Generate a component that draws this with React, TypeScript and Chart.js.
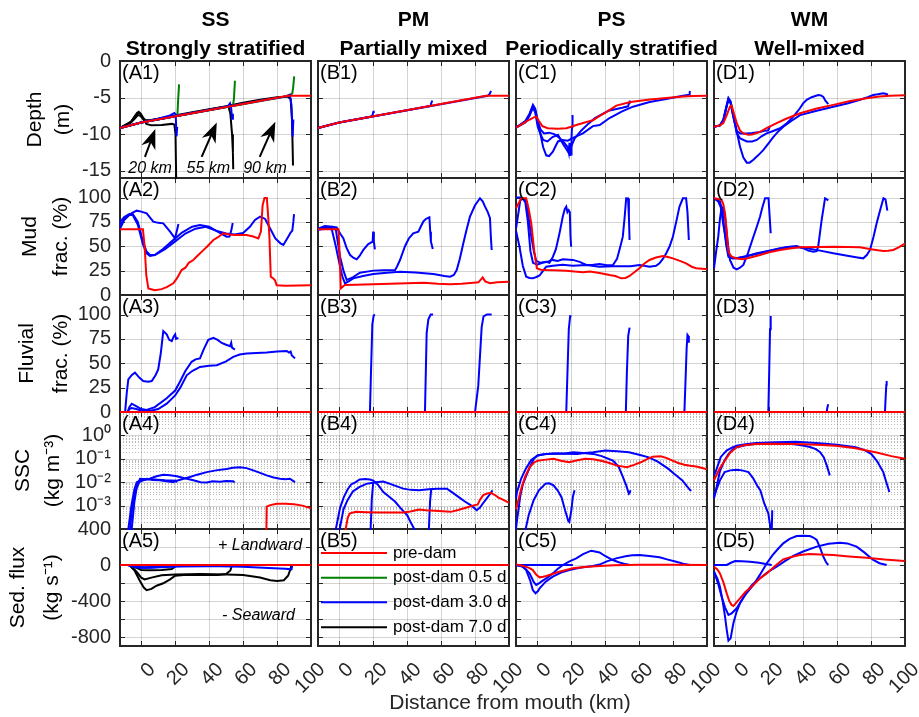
import React, { useEffect, useRef } from 'react';
import { Chart, registerables } from 'chart.js';

Chart.register(...registerables);
const FONT = "'Liberation Sans', Arial, Helvetica, sans-serif";
Chart.defaults.font.family = FONT;
Chart.defaults.color = '#262626';

type Pt = [number, number];

// ---------------- categories, labels, ticks ----------------
const regimeCodes = ['SS', 'PM', 'PS', 'WM'];
const regimeNames = ['Strongly stratified', 'Partially mixed', 'Periodically stratified', 'Well-mixed'];
const panelLetters = ['A', 'B', 'C', 'D'];
const legendLabels = ['pre-dam', 'post-dam 0.5 d', 'post-dam 3.0 d', 'post-dam 7.0 d'];
const legendKeys = ['pre', 'd05', 'd3', 'd7'];
const xAxisTitle = 'Distance from mouth (km)';
const kmTicks = [0, 20, 40, 60, 80, 100];
const kmGrid = [0, 20, 40, 60, 80];
const depthTicks = [0, -5, -10, -15];
const fracTicks = [0, 25, 50, 75, 100];
const sscTicks = [1e-3, 1e-2, 1e-1, 1];
const sscTickLabels = ['10⁻³', '10⁻²', '10⁻¹', '10⁰'];
const fluxTicks = [400, 0, -400, -800];
const fluxGridValues = [200, 0, -200, -400, -600, -800];
const damLabels = ['20 km', '55 km', '90 km'];
const damLabelPos: Pt[] = [[5.2, -15.3], [39.5, -15.3], [72.9, -15.3]];
const damArrows = [[2.2, -13.1, 8.3, -9.3], [35.6, -13.1, 44.5, -8.4], [69.8, -13.1, 79, -8.3]];
const fluxNotes = ['+ Landward', '- Seaward'];
const fluxNotePos: Pt[] = [[45.2, 211], [47.6, -567]];

// ---------------- A: SS ----------------
const A1_pre: Pt[] = [[-12.5, -9.15], [0, -8.4], [86.5, -4.75], [100, -4.75]];
const A1_d7_20: Pt[] = [[-12.5, -9.15], [-9, -8.9], [-6, -8.3], [-4, -7.6], [-2.5, -7.1], [-1.5, -6.95], [0, -7.3], [1.5, -8.0], [3, -8.6], [6, -8.8], [12, -8.75], [18, -8.6], [19.5, -8.7], [20.2, -10], [20.6, -16.5]];
const A1_d7_55: Pt[] = [[-12.5, -9.15], [-6, -8.3], [-4, -7.7], [-2, -7.2], [-1, -7.1], [0.5, -7.6], [2.5, -8.1], [5, -8.1], [10, -7.9], [20, -7.45], [30, -7.0], [40, -6.6], [48, -6.3], [51.5, -6.25], [52.5, -7.2], [53.5, -10], [54, -12.5], [54.2, -14.8]];
const A1_d7_90: Pt[] = [[-12.5, -9.15], [-6, -8.4], [-3.5, -7.8], [-2, -7.4], [-0.5, -7.5], [2, -8.2], [6, -8.1], [15, -7.7], [30, -7.1], [50, -6.2], [60, -5.7], [70, -5.3], [80, -4.95], [86, -4.85], [88, -5.2], [88.8, -8], [89.2, -12], [89.4, -14.3]];
const A1_d05_20: Pt[] = [[-12.5, -9.15], [0, -8.4], [20, -7.56], [21.3, -7.5], [21.7, -5.5], [22.3, -3.2]];
const A1_d05_55: Pt[] = [[-12.5, -9.15], [0, -8.4], [54, -6.12], [54.6, -5.2], [55.2, -2.7]];
const A1_d05_90: Pt[] = [[-12.5, -9.15], [0, -8.4], [87.5, -4.75], [89, -4.4], [89.5, -3.6], [90.1, -2.1]];
const A1_d3_20: Pt[] = [[-12.5, -9.15], [0, -8.4], [10, -7.9], [17, -7.45], [19.5, -7.1], [20.3, -7.3], [20.8, -10.3], [21.2, -9.0]];
const A1_d3_55: Pt[] = [[-12.5, -9.15], [0, -8.4], [30, -7.1], [45, -6.5], [51, -6.2], [52.3, -5.8], [53, -6.5], [53.5, -7.9], [54, -7.2]];
const A1_d3_90: Pt[] = [[-12.5, -9.15], [0, -8.4], [40, -6.7], [70, -5.45], [85, -4.85], [87.5, -4.6], [88.5, -6], [89.2, -10.35], [89.6, -8]];

const A2_pre: Pt[] = [[-12.5, 67.4], [1, 67.4], [2, 50], [3, 20], [4.2, 6.8], [8, 5], [12, 6], [15, 8], [18.9, 12], [21, 17], [23.8, 25.6], [26, 28], [28, 33], [30.7, 35.9], [33, 40], [36.6, 46], [39, 50], [42.5, 56.4], [45, 59], [48.4, 63.3], [52, 62], [55, 61.5], [62, 61.5], [66, 60], [69, 58], [70.5, 65], [71.5, 92], [72.6, 99.5], [74, 99.5], [74.8, 80], [75.5, 60], [76.3, 18.8], [77.8, 17], [78.8, 15], [79.8, 10], [85, 9.6], [100, 10]];
const A2_d3_20: Pt[] = [[-12.5, 72], [-9, 80], [-5.5, 84], [-2.7, 86.5], [0, 85.5], [3.2, 83.8], [7.1, 75.2], [10, 74], [13, 73.5], [17, 65], [19.9, 58.1], [21, 66], [21.9, 72.8]];
const A2_d3_55: Pt[] = [[-12.5, 75], [-10, 80], [-7, 83], [-5, 83], [-2, 75], [1, 55], [3, 45], [5.2, 41], [8, 41], [12, 46], [18, 55], [24, 64], [30, 70], [34.6, 71.8], [40, 70], [45, 65], [50.3, 59.8], [52, 60], [53, 66], [53.9, 73.8]];
const A2_d3_90: Pt[] = [[-12.5, 68], [-10, 77], [-7, 82], [-5, 82], [-2, 72], [1, 52], [3, 43], [5.2, 40], [8, 41], [14, 47], [20, 55], [26, 63], [32, 68], [38, 70], [44, 66], [50, 63], [55, 62], [60, 63.5], [64, 70], [67, 77], [70, 80.3], [73, 78], [76, 68], [79, 58], [82, 53], [83.7, 51.3], [86, 58], [88, 64], [89, 66], [89.6, 75], [90, 83]];

const A3_pre: Pt[] = [[-12.5, 0], [100, 0]];
const A3_d3_20: Pt[] = [[-12.5, 0], [-9.5, 0], [-8.5, 20], [-7.6, 33.5], [-5.5, 38], [-3.7, 40.3], [-1, 35], [1.2, 31.7], [4, 31], [6.2, 31.7], [8.5, 38], [10, 43.7], [11.5, 60], [13, 83], [15, 79.6], [16.5, 74], [18, 72.7], [19, 77], [20, 79.6], [20.5, 75], [21.9, 76]];
const A3_d3_55: Pt[] = [[-12.5, 0], [-8, 0], [-7, 5], [-5.6, 8.5], [-3, 6], [0, 3], [3.2, 2], [8, 5], [15, 14], [20, 22], [22.8, 31], [26, 42], [29.7, 51.5], [32, 54], [34.6, 55], [37, 65], [39.5, 74], [42.5, 76], [45, 74], [47.4, 70.8], [50, 69], [52.3, 67.4], [53, 71], [53.5, 66], [55.2, 64]];
const A3_d3_90: Pt[] = [[-12.5, 0], [-8, 0], [-7, 3], [-5.6, 4], [-3, 3], [0, 1.5], [5, 1], [10, 3], [15, 8.5], [20, 17], [23, 25], [26.8, 37.6], [30, 42], [34.6, 46.2], [40, 47.5], [44.5, 48], [50, 52], [54.2, 56.6], [58, 59], [62.1, 60], [68, 60.5], [73.9, 61], [80, 62], [85.7, 62.6], [87, 61], [88, 62], [88.7, 58], [90.6, 55]];

const A4_pre: Pt[] = [[-12.5, 1e-6], [73.4, 1e-6], [73.9, 9e-4], [76, 1.05e-3], [79.8, 1.2e-3], [85, 1.2e-3], [90, 1.15e-3], [95, 1.0e-3], [100, 7.6e-4]];
const A4_d3_20: Pt[] = [[-8, 5e-5], [-7.6, 1e-4], [-6.5, 4e-4], [-5.6, 1.2e-3], [-4, 5e-3], [-2.6, 0.01], [0, 0.0125], [3.2, 0.014], [7, 0.0125], [11, 0.012], [15, 0.011], [19, 0.01], [20, 0.0115], [21, 0.01]];
const A4_d3_55: Pt[] = [[-7, 5e-5], [-6.6, 1e-4], [-5.5, 6e-4], [-4, 3e-3], [-2.6, 6e-3], [-1, 0.0105], [1.2, 0.012], [5, 0.014], [9, 0.018], [13, 0.021], [17, 0.02], [21, 0.018], [25, 0.015], [30.7, 0.012], [35, 0.01], [38.6, 0.0098], [42, 0.011], [46.4, 0.0105], [50, 0.0112], [54.2, 0.011], [55, 0.0098]];
const A4_d3_90: Pt[] = [[-6, 5e-5], [-5.6, 1e-4], [-4, 1.5e-3], [-2.5, 7e-3], [-0.7, 0.014], [3, 0.0135], [8, 0.013], [14, 0.012], [21, 0.0115], [25, 0.014], [28.7, 0.0166], [33, 0.021], [38.6, 0.027], [44, 0.032], [50.3, 0.037], [54, 0.041], [58.2, 0.044], [62, 0.04], [66, 0.032], [70, 0.025], [73.9, 0.0195], [78, 0.016], [81.7, 0.014], [85, 0.0135], [87.6, 0.014], [89, 0.012], [90.6, 0.01]];

const A5_pre: Pt[] = [[-12.5, 0], [100, 0]];
const A5_d7_20: Pt[] = [[-7, 0], [-3, -30], [0, -55], [5, -58], [12, -55], [18, -45], [19.8, -20], [20.2, 0]];
const A5_d7_55: Pt[] = [[-7, 0], [-4, -60], [-1, -170], [1.5, -250], [3.2, -280], [6, -265], [9, -230], [13, -203], [17, -160], [20, -120], [25, -110], [35, -110], [45, -112], [50, -100], [52.5, -60], [53.5, 0]];
const A5_d7_90: Pt[] = [[-7, 0], [-3, -70], [0, -140], [2, -160], [6, -140], [12, -115], [20, -105], [35, -100], [50, -105], [60, -110], [70, -140], [76, -170], [80, -178], [84, -170], [86.5, -120], [88, -40], [88.5, 0]];
const A5_d3_20: Pt[] = [[-8, 0], [-4, -20], [0, -30], [6, -30], [14, -22], [20, -15], [20.5, 0]];
const A5_d3_55: Pt[] = [[-8, 0], [-3, -25], [2, -30], [10, -22], [25, -15], [40, -12], [54, -10], [54.5, 0]];
const A5_d3_90: Pt[] = [[-8, 0], [-3, -20], [2, -25], [15, -15], [40, -10], [60, -20], [75, -32], [85, -42], [88.5, -48], [89, 0]];

// ---------------- B: PM ----------------
const B1_pre: Pt[] = [[-12.5, -9.15], [0, -8.4], [86.5, -4.75], [100, -4.75]];
const B1_d3_20: Pt[] = [[-12.5, -9.15], [0, -8.4], [19, -7.6], [19.6, -7.4], [20, -7.0], [20.3, -6.8]];
const B1_d3_55: Pt[] = [[-12.5, -9.15], [0, -8.4], [53.5, -6.14], [54, -5.9], [54.5, -5.6], [54.8, -5.4]];
const B1_d3_90: Pt[] = [[-12.5, -9.15], [0, -8.4], [87.5, -4.75], [88.6, -4.5], [89.2, -4.2], [89.5, -4.1]];

const B2_pre: Pt[] = [[-12.5, 67.4], [-0.5, 67.4], [0.3, 40], [0.9, 6.8], [3.3, 10.3], [10, 10.5], [20, 11], [30, 11.5], [39.7, 12], [50, 12.5], [58, 11.5], [65.3, 11], [72, 11.5], [79, 12.6], [82, 13], [84.5, 18.1], [86, 14], [88.8, 12], [93, 13], [99.6, 13.7], [100, 13.7]];
const B2_d3_20: Pt[] = [[-12.5, 68], [-8.4, 70.8], [-4, 70], [-1.5, 69.4], [0.5, 63], [2.4, 58.2], [4.4, 48], [6.4, 41], [8.5, 38], [10.3, 36.6], [12, 40], [14.2, 46.2], [17.1, 52.3], [19.7, 54.7], [20, 65], [20.4, 55], [21, 46.9]];
const B2_d3_55: Pt[] = [[-12.5, 67], [-9, 70], [-5, 69], [-2, 67], [0.5, 39.3], [2.5, 25], [4.4, 15.4], [8, 18], [12.2, 22.9], [20.1, 25], [26, 25.4], [32.9, 25.6], [34, 29], [35.8, 35.9], [38.8, 50.3], [41, 58], [43.6, 63.3], [46.6, 65], [48, 70], [49.5, 75.2], [51, 78], [53.1, 79.7], [53.6, 65], [54, 55], [55.1, 47.2]];
const B2_d3_90: Pt[] = [[-12.5, 67], [-8, 68], [-4.4, 67.4], [-2, 50], [0.5, 29], [2, 18], [3.4, 12], [5.5, 14], [8.3, 17.1], [14, 19.5], [20.1, 21.5], [28, 22.8], [35.8, 23.9], [45, 23], [55.4, 21.5], [62, 19.5], [65.3, 18.8], [67.5, 20.5], [69.2, 25.6], [71, 37], [73.1, 53], [75, 67], [77, 80.3], [80, 92], [82.9, 99.2], [84.5, 96], [85.9, 90.6], [87.5, 85], [88.8, 78.7], [89.3, 60], [89.8, 46.2]];

const B3_pre: Pt[] = [[-12.5, 0], [100, 0]];
const B3_d3_20: Pt[] = [[-12.5, 0], [18.1, 0], [18.7, 40], [19.5, 90], [20.3, 99], [21, 100]];
const B3_d3_55: Pt[] = [[-12.5, 0], [50.5, 0], [51.5, 81], [52.5, 95], [53.9, 100], [55.3, 100]];
const B3_d3_90: Pt[] = [[-12.5, 0], [80, 0], [81.9, 27], [83.9, 87], [85, 98], [87, 100], [89.8, 100]];

const B4_pre: Pt[] = [[-12.5, 1e-6], [3.6, 1e-6], [3.8, 1e-4], [5, 3e-4], [6.1, 4.6e-4], [9.7, 5.4e-4], [16, 5.2e-4], [23.7, 5.1e-4], [30, 5.1e-4], [37.7, 5.1e-4], [42, 5.6e-4], [47, 6.8e-4], [51, 6.3e-4], [56.4, 6.0e-4], [61, 5.7e-4], [65.7, 5.4e-4], [70, 6.5e-4], [75.1, 8.3e-4], [79.7, 1.05e-3], [81.5, 1.1e-3], [83, 1.8e-3], [84.8, 2.8e-3], [86.8, 3.2e-3], [89.1, 3.5e-3], [91.5, 2.9e-3], [93.8, 2.2e-3], [97, 1.7e-3], [100, 1.3e-3]];
const B4_d3_a: Pt[] = [[-2.2, 1e-5], [-2, 1e-4], [0.5, 8e-4], [2.7, 2.3e-3], [5, 5e-3], [7, 8e-3], [9.7, 0.01], [12, 0.013], [15.5, 0.0138], [18, 0.013], [20.1, 0.0117], [23, 0.0075], [26, 0.0038], [30, 0.0022], [33, 0.00145], [36, 0.0008], [40, 0.00039], [42, 0.0002], [44.2, 1e-4], [44.6, 1e-5]];
const B4_d3_b: Pt[] = [[0.1, 1e-5], [0.3, 1e-4], [2.5, 7e-4], [4.9, 1.7e-3], [8, 4e-3], [12, 6.3e-3], [16, 8.5e-3], [21.3, 0.01], [26, 0.0107], [32, 0.0075], [37.7, 0.0053], [42, 0.0047], [47, 0.0045], [52.8, 0.005], [58, 0.0052], [63.4, 0.0053], [67, 0.0035], [70.4, 0.0023], [74, 0.0015], [77.4, 0.00105], [79.5, 0.0008], [80.9, 0.00063], [82.8, 0.0008], [84.5, 0.0012], [86.8, 0.002], [88.5, 0.0029], [90.3, 0.0045]];
const B4_d3_c: Pt[] = [[18.3, 1e-5], [18.5, 1e-4], [19.2, 2e-3], [20, 0.0095], [20.2, 0.01]];
const B4_d3_d: Pt[] = [[52.6, 1e-5], [52.8, 1e-4], [53.5, 1.5e-3], [54.2, 5e-3], [54.4, 0.0052]];

const B5_pre: Pt[] = [[-12.5, 0], [100, 0]];
const B5_d3_20: Pt[] = [[-12.5, 0], [20, 0]];
const B5_d3_55: Pt[] = [[-12.5, 0], [55, 0]];
const B5_d3_90: Pt[] = [[-12.5, 0], [90, 0]];

// ---------------- C: PS ----------------
const C1_pre: Pt[] = [[-12.5, -9.1], [-8, -8.5], [-4.4, -8.0], [-2, -7.7], [-0.6, -7.6], [1, -8.2], [3, -8.9], [6.2, -9.2], [12, -9.25], [17.1, -9.2], [20, -9.0], [23, -8.75], [28, -8.4], [32.8, -8.1], [36.8, -7.5], [40.7, -7.0], [46.6, -6.1], [55, -5.6], [66.4, -5.25], [76, -5.05], [86, -4.85], [92, -4.78], [100, -4.75]];
const C1_d3_20: Pt[] = [[-12.5, -9.1], [-7, -8.2], [-4.5, -7.2], [-2.5, -6.0], [-1.2, -6.5], [0.5, -8.3], [2, -9.4], [4, -9.9], [7, -9.8], [10, -10.0], [13, -10.5], [16, -11.2], [18, -11.8], [18.6, -12.5], [19.0, -11.2], [19.3, -13.0], [19.6, -11.4], [19.9, -12.8], [20.2, -10.5], [20.5, -9.0], [20.8, -7.4]];
const C1_d3_55: Pt[] = [[-12.5, -9.1], [-7, -8.3], [-4.5, -7.3], [-2.6, -6.2], [-1.2, -6.7], [0.5, -8.8], [1.8, -9.9], [3.5, -10.8], [6, -11.0], [9, -10.4], [12.2, -10.1], [15.1, -11.3], [18.1, -12.4], [20, -11.7], [22, -10.6], [26, -9.5], [30, -8.6], [34, -7.8], [38, -7.3], [42, -6.8], [46, -6.6], [50, -6.4], [53.5, -6.2], [54.2, -5.7], [54.5, -5.4]];
const C1_d3_90: Pt[] = [[-12.5, -9.1], [-7, -8.4], [-4.5, -7.5], [-2.6, -6.4], [-1.2, -7.0], [0.3, -9.0], [1.8, -9.9], [3.5, -11.8], [5.3, -12.9], [7, -13.0], [9.2, -12.4], [12.2, -11], [15, -10.8], [18, -10.9], [22, -10.4], [26.9, -9.9], [32.8, -8.9], [36.8, -8.75], [42.6, -7.8], [50, -6.9], [56.4, -6.25], [66.2, -5.6], [76, -5.2], [85, -4.8], [89.5, -4.6], [89.8, -4.3], [90, -4.1]];

const C2_pre: Pt[] = [[-12.5, 89], [-9.4, 99.2], [-6.5, 99.2], [-5, 88], [-3.5, 73.5], [-1.6, 42.8], [-0.2, 27.4], [2, 26], [5.3, 25.6], [10, 25.5], [17.1, 24.9], [22, 24], [26.9, 23.3], [31, 24], [36.7, 22.5], [42.6, 20.5], [46, 19.5], [49.5, 17.1], [52, 17.5], [54.4, 19.5], [57, 23], [60.2, 27.4], [63, 32], [66.1, 35.9], [70, 38.5], [74, 40], [77, 39], [79.9, 37.6], [84, 35], [87.7, 32.5], [91, 29], [93.6, 27.4], [99.1, 26.7], [100, 26.7]];
const C2_d3_20: Pt[] = [[-12.5, 100], [-9.5, 100], [-7, 98], [-5.5, 85], [-3.5, 60], [-2, 45], [-0.6, 35], [2, 33], [5.3, 34], [7.2, 33], [9.2, 39], [11, 47], [13.1, 63], [15, 80], [16.2, 88], [17.1, 90.6], [17.8, 85], [18.5, 87], [19.2, 85], [19.6, 60], [20, 49.5]];
const C2_d3_55: Pt[] = [[-12.5, 68], [-11, 85], [-10, 97], [-8.5, 99], [-7, 95], [-5.5, 75], [-4, 45], [-2.5, 33], [0, 31], [3, 33], [6, 34], [9, 36], [12, 35], [15.1, 36.6], [21, 36], [25, 34], [28.9, 30.8], [33, 31], [36.7, 31.8], [41, 30.5], [44.6, 30.8], [47, 37], [49, 50], [50.4, 59.8], [51.5, 80], [52.4, 99.2], [53.5, 99], [54, 80], [54.4, 56.4]];
const C2_d3_90: Pt[] = [[-12.5, 66], [-10.5, 50], [-8.5, 30], [-6.5, 18.8], [-4.5, 17.5], [-2.6, 17.1], [-0.5, 18.5], [1.4, 20], [3.5, 25], [5.3, 29], [9.2, 30], [15, 31], [21, 30], [28.9, 30.8], [36.7, 29], [44.6, 29.5], [50, 29.5], [55, 29.5], [60.2, 30.8], [63, 30], [66.1, 29], [70, 30], [72, 32.5], [74, 37], [76, 42.8], [78, 50], [79.9, 59.8], [82, 76], [83.8, 90.6], [85.8, 99.2], [87.7, 99.2], [88.5, 85], [89.3, 56.4]];

const C3_pre: Pt[] = [[-12.5, 0], [100, 0]];
const C3_d3_20: Pt[] = [[-12.5, 0], [17.1, 0], [17.8, 40], [18.6, 85], [19.4, 98.5], [19.6, 99]];
const C3_d3_55: Pt[] = [[-12.5, 0], [52.2, 0], [52.8, 40], [53.6, 78], [54.4, 86.5]];
const C3_d3_90: Pt[] = [[-12.5, 0], [86.7, 0], [87.3, 30], [88.0, 65], [88.5, 79], [88.9, 78], [89.3, 71]];

const C4_pre: Pt[] = [[-12.5, 7e-4], [-11.9, 1.05e-3], [-10.5, 2.5e-3], [-9.1, 6.3e-3], [-7, 0.018], [-4.4, 0.044], [-2, 0.068], [0.2, 0.083], [4, 0.09], [9.6, 0.1], [14, 0.082], [18.9, 0.071], [23, 0.085], [28.3, 0.1], [33, 0.095], [37.6, 0.083], [42, 0.068], [47, 0.051], [52.9, 0.044], [57, 0.055], [61, 0.071], [65, 0.1], [68, 0.123], [72.7, 0.129], [76, 0.11], [79.7, 0.083], [83, 0.066], [86.7, 0.056], [90, 0.05], [93.7, 0.047], [100, 0.036]];
const C4_d3_90: Pt[] = [[-12.5, 2e-3], [-11.9, 3.8e-3], [-9.5, 0.014], [-6.8, 0.037], [-3.5, 0.09], [0.2, 0.138], [4, 0.155], [9.6, 0.17], [16, 0.165], [23.6, 0.162], [28, 0.175], [33, 0.19], [40, 0.224], [47, 0.21], [54, 0.19], [60, 0.15], [65.7, 0.115], [71, 0.075], [77.3, 0.037], [81, 0.022], [85.5, 0.012], [88, 0.007], [90.2, 0.0045], [90.8, 0.0047]];
const C4_d3_55: Pt[] = [[-12.5, 1e-4], [-11.9, 2.4e-4], [-10, 2.5e-3], [-8.5, 8e-3], [-6.8, 0.0166], [-4, 0.05], [-2, 0.1], [0.2, 0.138], [5, 0.16], [12, 0.17], [16, 0.17], [21.3, 0.19], [27, 0.175], [33, 0.162], [38, 0.13], [44.6, 0.083], [48, 0.045], [50.5, 0.0166], [52.5, 0.007], [54, 0.0032], [54.5, 0.0035], [54.9, 0.0045]];
const C4_d3_20: Pt[] = [[-7.5, 1e-5], [-6.8, 1e-4], [-5, 4e-4], [-2.1, 1.7e-3], [1, 4.5e-3], [4.9, 8.7e-3], [7, 9e-3], [9.6, 7.4e-3], [12, 4.5e-3], [14.3, 2.3e-3], [16.5, 6e-4], [18.3, 2.2e-4], [18.9, 2e-4], [19.5, 3.5e-4], [20.1, 6.3e-4], [21, 2.4e-3], [22, 4.5e-3]];

const C5_pre: Pt[] = [[-12.5, 7], [-8, -10], [-4.5, -35], [-2.6, -56], [-0.5, -110], [1.4, -137], [3.5, -130], [5.3, -122], [9, -100], [13, -74], [17, -55], [21, -37], [28, -22], [36.7, -11], [45, -2], [60, 3], [80, 3], [100, 0]];
const C5_d3_20: Pt[] = [[-12.5, 0], [21, 0]];
const C5_d3_55: Pt[] = [[-12.5, 0], [-8, -20], [-4.5, -93], [-2, -190], [-0.6, -222], [1, -205], [2.4, -185], [6, -140], [9.2, -93], [12, -45], [15.1, 0], [19, 40], [23, 74], [27, 120], [31.8, 159], [34, 150], [36.7, 140], [40, 100], [44.5, 55], [48, 30], [52, 10], [54.4, 0]];
const C5_d3_90: Pt[] = [[-12.5, 0], [-9, -15], [-6.5, -56], [-4, -180], [-2.6, -278], [-1, -314], [0.5, -290], [1.4, -259], [5, -185], [9.2, -130], [14, -85], [19, -56], [25, -30], [32.7, -11], [36.7, 5], [41, 40], [46.5, 74], [52, 98], [56, 108], [60.3, 111], [66, 100], [72, 85], [77, 60], [81.9, 37], [86, 15], [89.8, 0]];

// ---------------- D: WM ----------------
const D1_pre: Pt[] = [[-12.5, -9.0], [-9, -8.8], [-7, -8.5], [-5, -7.4], [-3.1, -6.25], [-2.1, -6.1], [-0.5, -7.4], [0.9, -8.5], [2.8, -9.5], [4.8, -9.9], [7.7, -10.1], [10, -10.05], [14.6, -9.7], [19, -9.1], [24.4, -8.5], [30, -7.9], [38.2, -7.15], [48, -6.5], [57.8, -6.0], [67, -5.5], [77.4, -5.1], [85, -4.85], [91.2, -4.75], [100, -4.7]];
const D1_d3_90: Pt[] = [[-12.5, -9.0], [-9, -8.8], [-7, -8.0], [-5.3, -6.3], [-4, -5.1], [-2.8, -5.5], [-1.5, -7.0], [-0.1, -8.5], [1.5, -10.3], [2.8, -11.7], [4.8, -13.2], [6.8, -13.9], [8.5, -13.9], [10.7, -13.5], [13.5, -12.9], [16.5, -12.2], [19.5, -11.3], [22.4, -10.4], [25.5, -9.6], [28.3, -9.0], [33, -8.2], [38.2, -7.4], [48, -6.8], [57.8, -6.25], [66, -5.8], [73.5, -5.3], [78, -4.95], [81.3, -4.65], [84, -4.55], [87.2, -4.4], [89, -4.5], [90, -4.6]];
const D1_d3_55: Pt[] = [[-12.5, -9.0], [-9, -8.8], [-7, -8.1], [-5.3, -6.4], [-4, -5.1], [-2.8, -5.6], [-1.2, -7.4], [0.9, -9.9], [3, -10.6], [6.8, -11.0], [10, -11.0], [12.7, -10.8], [15.5, -10.3], [18.5, -9.9], [22, -9.6], [26.4, -9.2], [30, -8.6], [34.2, -7.6], [38, -6.5], [40, -5.8], [42.1, -5.3], [45, -4.95], [48.9, -4.65], [50.5, -4.7], [51.9, -4.9], [53, -5.4], [54.8, -5.9]];
const D1_d3_20: Pt[] = [[-12.5, -9.0], [-9, -8.8], [-7, -8.2], [-5.3, -6.5], [-4, -5.3], [-2.8, -5.7], [-1.2, -7.6], [0.9, -9.6], [3, -9.9], [6.8, -9.9], [10, -9.85], [14.6, -9.7], [17, -9.55], [19.2, -9.5], [19.8, -9.3], [20.3, -9.0]];

const D2_pre: Pt[] = [[-12.5, 99.2], [-10, 98.5], [-8, 97.4], [-7, 93], [-6, 83.8], [-5, 65], [-4, 44.4], [-2.5, 40], [-1.1, 38.6], [2, 37.2], [4.8, 36.6], [9, 38.5], [14.6, 41], [20, 43.8], [26.4, 46.2], [32, 47.8], [38.2, 48.9], [48, 49.3], [57.8, 49.5], [66, 49.3], [73.5, 48.9], [80, 47], [84, 45.8], [87.3, 45.1], [90, 45.4], [93.1, 46.2], [96.5, 49], [99.6, 52.3], [100, 52.5]];
const D2_d3_20: Pt[] = [[-12.5, 27.4], [-11.2, 45], [-10, 59.8], [-9, 78], [-8, 90.6], [-7, 88], [-6, 80], [-4.5, 55], [-3.1, 35.9], [-1, 28], [0.9, 26.3], [2.8, 28], [4.8, 30.8], [7.5, 43], [10.7, 59.8], [12.7, 70], [14.6, 80.3], [16, 90], [17.6, 99.2], [19.6, 99.2], [20.3, 80], [20.9, 63.3]];
const D2_d3_55: Pt[] = [[-12.5, 99.2], [-9, 96], [-7.5, 85], [-6.6, 70], [-5.2, 50], [-4, 39.3], [-1.5, 37.5], [0.9, 37.6], [6, 39.5], [12.7, 42.8], [20, 45.5], [26.4, 47.9], [32, 49.5], [36.2, 50.3], [40, 48], [43, 45.5], [46, 44.4], [48, 45], [48.9, 50], [50.9, 76.9], [52.9, 99.2], [54, 98], [54.8, 97]];
const D2_d3_90: Pt[] = [[-12.5, 99.2], [-10, 96], [-8.5, 90], [-7, 72], [-6, 62], [-4, 41], [-1.5, 38.5], [0.9, 37.6], [7, 40], [14.6, 42.8], [22, 46], [30.3, 48.9], [36, 49.2], [42.1, 47.9], [50, 45.5], [57.8, 42.8], [66, 40.3], [72, 38.5], [75.4, 37.6], [77.5, 41], [79.4, 46.2], [81.5, 60], [83.3, 73.5], [85.5, 88], [87.3, 99.2], [88.5, 98], [89.6, 86.5]];

const D3_pre: Pt[] = [[-12.5, 0], [100, 0]];
const D3_d3_20: Pt[] = [[-12.5, 0], [19.5, 0], [20.0, 40], [20.5, 85], [20.9, 98.5]];
const D3_d3_55: Pt[] = [[-12.5, 0], [53.9, 0], [54.2, 4], [54.8, 7.9]];
const D3_d3_90: Pt[] = [[-12.5, 0], [88.2, 0], [88.6, 15], [89.0, 28], [89.2, 31.8]];

const D4_pre: Pt[] = [[-12.5, 0.012], [-11.6, 0.0166], [-9, 0.04], [-6.2, 0.083], [-3, 0.18], [0.8, 0.31], [5, 0.38], [12.4, 0.43], [20, 0.44], [35.8, 0.43], [48, 0.4], [59.2, 0.36], [70, 0.29], [82.6, 0.19], [92, 0.13], [100, 0.1]];
const D4_d3_90: Pt[] = [[-12.5, 0.02], [-11.6, 0.027], [-8.5, 0.12], [-5.1, 0.224], [-2, 0.3], [0.8, 0.36], [6, 0.42], [12.4, 0.47], [24, 0.51], [35.8, 0.54], [47.5, 0.47], [60, 0.4], [70.9, 0.31], [76, 0.24], [80.2, 0.16], [83.5, 0.08], [87.2, 0.027], [89, 0.01], [90.8, 0.0038]];
const D4_d3_55: Pt[] = [[-12.5, 2e-3], [-11.6, 3.8e-3], [-9, 0.03], [-6.5, 0.08], [-3.9, 0.162], [-1.5, 0.25], [0.8, 0.31], [6, 0.38], [12, 0.44], [24.1, 0.47], [33, 0.44], [40.5, 0.36], [44, 0.32], [47.5, 0.26], [50, 0.19], [52.2, 0.115], [54, 0.05], [55.7, 0.0195]];
const D4_d3_20: Pt[] = [[-12.5, 2.5e-3], [-11.6, 3.8e-3], [-9, 0.012], [-6.2, 0.027], [-3, 0.032], [0.8, 0.034], [4, 0.032], [7.8, 0.027], [10.5, 0.015], [13, 0.007], [14.8, 0.0045], [17, 0.0013], [19.5, 4.6e-4], [20.5, 1.5e-4], [21.3, 1e-4], [21.5, 5e-5], [21.6, 1e-4], [21.8, 6.3e-4]];

const D5_pre: Pt[] = [[-12.5, -19], [-10.5, -50], [-9, -93], [-7, -190], [-5, -315], [-3.5, -400], [-2.1, -444], [-1.1, -456], [0.5, -420], [2.8, -370], [6, -300], [10.7, -222], [14.5, -150], [18.6, -93], [22, -35], [25, 15], [28.3, 63], [33, 90], [38, 110], [44, 122], [50, 118], [57.8, 111], [67, 95], [77.4, 81], [88, 60], [99.6, 44], [100, 44]];
const D5_d3_20: Pt[] = [[-12.5, 0], [-5, 0], [-2.5, 25], [-0.1, 44], [4, 42], [8.7, 37], [14, 25], [18, 10], [21.5, 0]];
const D5_d3_55: Pt[] = [[-12.5, -74], [-10.5, -150], [-9, -241], [-7.5, -390], [-6, -574], [-5, -720], [-4, -841], [-2.7, -815], [-1.1, -648], [0.8, -520], [2.8, -426], [6, -330], [10.7, -222], [14.5, -110], [18.6, 19], [22, 110], [25, 175], [28.3, 241], [32, 290], [36.2, 322], [40, 325], [44, 322], [46, 305], [48, 278], [50, 190], [51.9, 92], [53.5, 30], [54.8, 0]];
const D5_d3_90: Pt[] = [[-12.5, -74], [-10, -210], [-8, -352], [-6, -470], [-4, -555], [-2.1, -537], [0.9, -481], [3.5, -400], [6.8, -296], [10, -220], [14.6, -148], [19, -80], [24.4, -19], [29, 40], [34.2, 100], [40, 150], [48, 204], [55, 235], [61.7, 248], [66, 240], [71.5, 204], [76, 140], [81.3, 56], [85, 20], [89.2, 0]];

// ---------------- panel table (built from the arrays) ----------------
type Line = [Pt[], string];
const PANEL_LINES: Line[][][] = [
  [
    [[A1_d7_20, 'd7'], [A1_d7_55, 'd7'], [A1_d7_90, 'd7'], [A1_d05_20, 'd05'], [A1_d05_55, 'd05'], [A1_d05_90, 'd05'], [A1_d3_20, 'd3'], [A1_d3_55, 'd3'], [A1_d3_90, 'd3'], [A1_pre, 'pre']],
    [[A2_d3_20, 'd3'], [A2_d3_55, 'd3'], [A2_d3_90, 'd3'], [A2_pre, 'pre']],
    [[A3_d3_20, 'd3'], [A3_d3_55, 'd3'], [A3_d3_90, 'd3'], [A3_pre, 'pre']],
    [[A4_d3_20, 'd3'], [A4_d3_55, 'd3'], [A4_d3_90, 'd3'], [A4_pre, 'pre']],
    [[A5_d7_20, 'd7'], [A5_d7_55, 'd7'], [A5_d7_90, 'd7'], [A5_d3_20, 'd3'], [A5_d3_55, 'd3'], [A5_d3_90, 'd3'], [A5_pre, 'pre']],
  ],
  [
    [[B1_d3_20, 'd3'], [B1_d3_55, 'd3'], [B1_d3_90, 'd3'], [B1_pre, 'pre']],
    [[B2_d3_20, 'd3'], [B2_d3_55, 'd3'], [B2_d3_90, 'd3'], [B2_pre, 'pre']],
    [[B3_d3_20, 'd3'], [B3_d3_55, 'd3'], [B3_d3_90, 'd3'], [B3_pre, 'pre']],
    [[B4_d3_a, 'd3'], [B4_d3_b, 'd3'], [B4_d3_c, 'd3'], [B4_d3_d, 'd3'], [B4_pre, 'pre']],
    [[B5_d3_20, 'd3'], [B5_d3_55, 'd3'], [B5_d3_90, 'd3'], [B5_pre, 'pre']],
  ],
  [
    [[C1_d3_20, 'd3'], [C1_d3_55, 'd3'], [C1_d3_90, 'd3'], [C1_pre, 'pre']],
    [[C2_d3_20, 'd3'], [C2_d3_55, 'd3'], [C2_d3_90, 'd3'], [C2_pre, 'pre']],
    [[C3_d3_20, 'd3'], [C3_d3_55, 'd3'], [C3_d3_90, 'd3'], [C3_pre, 'pre']],
    [[C4_d3_20, 'd3'], [C4_d3_55, 'd3'], [C4_d3_90, 'd3'], [C4_pre, 'pre']],
    [[C5_d3_20, 'd3'], [C5_d3_55, 'd3'], [C5_d3_90, 'd3'], [C5_pre, 'pre']],
  ],
  [
    [[D1_d3_20, 'd3'], [D1_d3_55, 'd3'], [D1_d3_90, 'd3'], [D1_pre, 'pre']],
    [[D2_d3_20, 'd3'], [D2_d3_55, 'd3'], [D2_d3_90, 'd3'], [D2_pre, 'pre']],
    [[D3_d3_20, 'd3'], [D3_d3_55, 'd3'], [D3_d3_90, 'd3'], [D3_pre, 'pre']],
    [[D4_d3_20, 'd3'], [D4_d3_55, 'd3'], [D4_d3_90, 'd3'], [D4_pre, 'pre']],
    [[D5_d3_20, 'd3'], [D5_d3_55, 'd3'], [D5_d3_90, 'd3'], [D5_pre, 'pre']],
  ],
];

// ---------------- styles & layout ----------------
const SERIES: Record<string, { color: string; order: number }> = {
  pre: { color: '#ff0000', order: 0 },
  d3: { color: '#0000ff', order: 1 },
  d05: { color: '#008000', order: 2 },
  d7: { color: '#000000', order: 3 },
};
const PAGE_W = 919;
const PAGE_H = 717;
const COL_LEFT = [120, 318, 516, 714];
const COL_W = 191;
const ROW_TOP = [61, 178, 295, 412, 529];
const ROW_H = 117;
const M = 30;
const X_TITLE_CX = 510;
const X_TITLE_BASE = 709;

const sscMinor: number[] = [];
for (let e = -4; e <= 0; e++) for (let m = 2; m <= 9; m++) sscMinor.push(m * Math.pow(10, e));

type RowSpec = {
  type: 'linear' | 'logarithmic'; min: number; max: number; ticks: number[]; grid: number[];
  minor?: number[]; title: string[]; tLH: number; tPad: number; fmt: (v: number, i: number) => string;
};
const ROWS: RowSpec[] = [
  { type: 'linear', min: -16, max: 0, ticks: depthTicks, grid: [-5, -10, -15], title: ['Depth', '(m)'], tLH: 28, tPad: 21, fmt: (v) => String(v) },
  { type: 'linear', min: 0, max: 120, ticks: fracTicks, grid: [25, 50, 75, 100], title: ['Mud', 'frac. (%)'], tLH: 31, tPad: 14.5, fmt: (v) => String(v) },
  { type: 'linear', min: 0, max: 120, ticks: fracTicks, grid: [25, 50, 75, 100], title: ['Fluvial', 'frac. (%)'], tLH: 34, tPad: 10, fmt: (v) => String(v) },
  { type: 'logarithmic', min: 1e-4, max: 10, ticks: sscTicks, grid: sscTicks, minor: sscMinor, title: ['SSC', '(kg m⁻³)'], tLH: 30, tPad: 8, fmt: (_v, i) => sscTickLabels[i] },
  { type: 'linear', min: -900, max: 400, ticks: fluxTicks, grid: fluxGridValues, title: ['Sed. flux', '(kg s⁻¹)'], tLH: 34, tPad: 1, fmt: (v) => String(v) },
];

function geometry(col: number, row: number) {
  const pl = COL_LEFT[col], pr = pl + COL_W, pt = ROW_TOP[row], pb = pt + ROW_H;
  const left = col === 0 ? 0 : pl - M;
  const right = pr + (col === 1 && row === 4 ? 150 : M);
  const top = row === 0 ? 0 : pt - M;
  const bottom = row === 4 ? PAGE_H : pb + M;
  return {
    left, top, w: right - left, h: bottom - top,
    padLeft: col === 0 ? 0 : M, yAxisW: col === 0 ? pl : 0,
    padRight: right - pr, padTop: pt - top,
    padBottom: row === 4 ? 0 : M, xAxisH: row === 4 ? PAGE_H - pb : 0,
  };
}

function drawArrow(ctx: CanvasRenderingContext2D, x0: number, y0: number, x1: number, y1: number) {
  const ang = Math.atan2(y1 - y0, x1 - x0);
  const c = Math.cos(ang), s = Math.sin(ang);
  const L = 20, W = 7.5;
  ctx.lineWidth = 2;
  ctx.beginPath(); ctx.moveTo(x0, y0); ctx.lineTo(x1 - 12 * c, y1 - 12 * s); ctx.stroke();
  ctx.beginPath();
  ctx.moveTo(x1, y1);
  ctx.lineTo(x1 - L * c + W * s, y1 - L * s - W * c);
  ctx.lineTo(x1 - 0.7 * L * c, y1 - 0.7 * L * s);
  ctx.lineTo(x1 - L * c - W * s, y1 - L * s + W * c);
  ctx.closePath(); ctx.fill();
}

function makeDecor(col: number, row: number, g: ReturnType<typeof geometry>) {
  const R = ROWS[row];
  return {
    id: 'decor',
    beforeDatasetsDraw(chart: any) {
      const { ctx, chartArea: a } = chart;
      const xs = chart.scales.x, ys = chart.scales.y;
      ctx.save();
      ctx.beginPath(); ctx.rect(a.left, a.top, a.right - a.left, a.bottom - a.top); ctx.clip();
      ctx.lineWidth = 1;
      if (R.minor) {
        ctx.strokeStyle = 'rgba(38,38,38,0.32)';
        ctx.setLineDash([1, 2]);
        for (const v of R.minor) {
          const py = Math.round(ys.getPixelForValue(v)) + 0.5;
          ctx.beginPath(); ctx.moveTo(a.left, py); ctx.lineTo(a.right, py); ctx.stroke();
        }
        ctx.setLineDash([]);
      }
      ctx.strokeStyle = 'rgba(38,38,38,0.2)';
      for (const v of kmGrid) {
        const px = Math.round(xs.getPixelForValue(v)) + 0.5;
        ctx.beginPath(); ctx.moveTo(px, a.top); ctx.lineTo(px, a.bottom); ctx.stroke();
      }
      for (const v of R.grid) {
        const py = Math.round(ys.getPixelForValue(v)) + 0.5;
        ctx.beginPath(); ctx.moveTo(a.left, py); ctx.lineTo(a.right, py); ctx.stroke();
      }
      ctx.restore();
      ctx.save();
      ctx.strokeStyle = '#262626';
      ctx.lineWidth = 1;
      const T = 5;
      for (const v of kmGrid) {
        const px = Math.round(xs.getPixelForValue(v)) + 0.5;
        ctx.beginPath(); ctx.moveTo(px, a.top); ctx.lineTo(px, a.top + T); ctx.moveTo(px, a.bottom); ctx.lineTo(px, a.bottom - T); ctx.stroke();
      }
      for (const v of R.grid) {
        const py = Math.round(ys.getPixelForValue(v)) + 0.5;
        ctx.beginPath(); ctx.moveTo(a.left, py); ctx.lineTo(a.left + T, py); ctx.moveTo(a.right, py); ctx.lineTo(a.right - T, py); ctx.stroke();
      }
      ctx.lineWidth = 2;
      ctx.strokeRect(a.left, a.top, a.right - a.left, a.bottom - a.top);
      ctx.restore();
    },
    afterDatasetsDraw(chart: any) {
      const { ctx, chartArea: a } = chart;
      const xs = chart.scales.x, ys = chart.scales.y;
      ctx.save();
      ctx.fillStyle = '#000';
      ctx.textAlign = 'left';
      ctx.textBaseline = 'alphabetic';
      ctx.font = `20px ${FONT}`;
      ctx.fillText(`(${panelLetters[col]}${row + 1})`, a.left + 2, a.top + 18);

      if (col === 0 && row === 0) {
        ctx.fillStyle = '#000'; ctx.strokeStyle = '#000';
        damArrows.forEach(([tx, ty, hx, hy]) => {
          drawArrow(ctx, xs.getPixelForValue(tx), ys.getPixelForValue(ty), xs.getPixelForValue(hx), ys.getPixelForValue(hy));
        });
        ctx.font = `italic 16px ${FONT}`;
        ctx.textAlign = 'center';
        damLabels.forEach((t, i) => ctx.fillText(t, xs.getPixelForValue(damLabelPos[i][0]), ys.getPixelForValue(damLabelPos[i][1])));
      }
      if (col === 0 && row === 4) {
        ctx.font = `italic 16px ${FONT}`;
        ctx.textAlign = 'left';
        ctx.textBaseline = 'middle';
        fluxNotes.forEach((t, i) => ctx.fillText(t, xs.getPixelForValue(fluxNotePos[i][0]), ys.getPixelForValue(fluxNotePos[i][1])));
      }
      if (col === 1 && row === 4) {
        const dy = [24, 48.7, 73.3, 98.3];
        ctx.font = `17px ${FONT}`;
        ctx.textAlign = 'left';
        ctx.textBaseline = 'middle';
        legendKeys.forEach((k, i) => {
          const yy = a.top + dy[i];
          ctx.strokeStyle = SERIES[k].color; ctx.lineWidth = 2;
          ctx.beginPath(); ctx.moveTo(a.left + 3, yy); ctx.lineTo(a.left + 69, yy); ctx.stroke();
          ctx.fillStyle = '#000';
          ctx.fillText(legendLabels[i], a.left + 75, yy);
        });
        ctx.font = `21px ${FONT}`;
        ctx.textAlign = 'center';
        ctx.textBaseline = 'alphabetic';
        ctx.fillStyle = '#262626';
        ctx.fillText(xAxisTitle, X_TITLE_CX - g.left, X_TITLE_BASE - g.top);
      }
      if (row === 0) {
        ctx.font = `bold 21px ${FONT}`;
        ctx.textAlign = 'center';
        ctx.textBaseline = 'alphabetic';
        ctx.fillStyle = '#000';
        const cx = (a.left + a.right) / 2;
        ctx.fillText(regimeCodes[col], cx, 26 - g.top);
        ctx.fillText(regimeNames[col], cx, 55 - g.top);
      }
      ctx.restore();
    },
  };
}

function buildConfig(col: number, row: number, g: ReturnType<typeof geometry>): any {
  const R = ROWS[row];
  const showY = col === 0;
  const showX = row === 4;
  const datasets = PANEL_LINES[col][row].map(([pts, key]) => ({
    data: pts.map(([x, y]) => ({ x, y })),
    borderColor: SERIES[key].color,
    backgroundColor: SERIES[key].color,
    borderWidth: 2,
    pointRadius: 0,
    pointHoverRadius: 0,
    tension: 0,
    fill: false,
    clip: 1,
    order: SERIES[key].order,
  }));
  return {
    type: 'line',
    data: { datasets },
    options: {
      animation: false,
      responsive: false,
      maintainAspectRatio: false,
      events: [],
      layout: { padding: { left: g.padLeft, right: g.padRight, top: g.padTop, bottom: g.padBottom } },
      plugins: { legend: { display: false }, tooltip: { enabled: false }, title: { display: false } },
      scales: {
        x: {
          type: 'linear', min: -12.5, max: 100, bounds: 'data', display: true,
          grid: { display: false, drawTicks: false }, border: { display: false },
          ticks: {
            display: showX, autoSkip: false, minRotation: 45, maxRotation: 45, padding: 12, labelOffset: 11,
            font: { size: 20 }, color: '#262626', callback: (v: number) => String(v),
          },
          afterBuildTicks: (s: any) => { s.ticks = kmTicks.map((value) => ({ value })); },
          afterFit: (s: any) => { s.height = g.xAxisH; },
        },
        y: {
          type: R.type, min: R.min, max: R.max, display: true,
          grid: { display: false, drawTicks: false }, border: { display: false },
          ticks: {
            display: showY, autoSkip: false, padding: 9, font: { size: 20 }, color: '#262626',
            callback: (v: number, i: number) => R.fmt(v, i),
          },
          afterBuildTicks: (s: any) => { s.ticks = R.ticks.map((value) => ({ value })); },
          afterFit: (s: any) => { s.width = g.yAxisW; },
          title: {
            display: showY, text: R.title, color: '#000',
            font: { size: 21, lineHeight: `${R.tLH}px` }, padding: { top: R.tPad, bottom: 0 },
          },
        },
      },
    },
    plugins: [makeDecor(col, row, g)],
  };
}

function Panel({ col, row }: { col: number; row: number }) {
  const ref = useRef<HTMLCanvasElement>(null);
  const g = geometry(col, row);
  useEffect(() => {
    if (!ref.current) return;
    const chart = new Chart(ref.current, buildConfig(col, row, g));
    return () => chart.destroy();
  }, []);
  return (
    <canvas
      ref={ref}
      width={g.w}
      height={g.h}
      style={{ position: 'absolute', left: g.left, top: g.top, width: g.w, height: g.h }}
    />
  );
}

export default function App() {
  const cells: { col: number; row: number }[] = [];
  for (let row = 4; row >= 0; row--) for (let col = 0; col < 4; col++) cells.push({ col, row });
  return (
    <div style={{ position: 'absolute', left: 0, top: 0, width: PAGE_W, height: PAGE_H, background: '#fff', overflow: 'hidden' }}>
      {cells.map((c) => <Panel key={`${c.col}-${c.row}`} col={c.col} row={c.row} />)}
    </div>
  );
}
